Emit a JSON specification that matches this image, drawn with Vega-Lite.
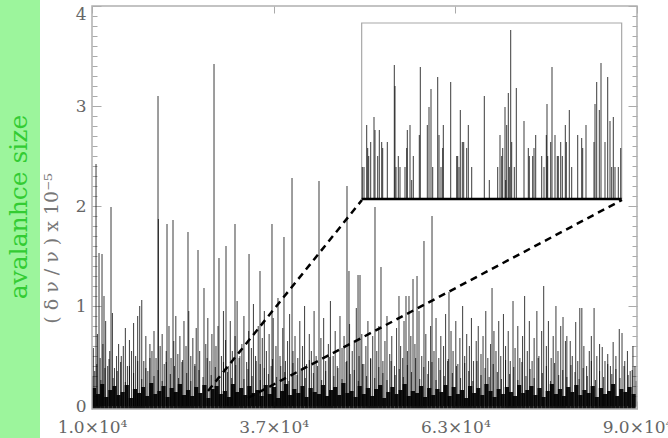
{
  "$schema": "https://vega.github.io/schema/vega-lite/v6.json",
  "background": "#9cf59c",
  "autosize": {"type": "none"},
  "padding": {"left": 40, "top": 0, "right": 0, "bottom": 0},
  "width": 628,
  "height": 438,
  "view": {"fill": "white", "stroke": null},
  "title": {"text": "avalanhce size", "orient": "left", "anchor": "middle", "frame": "group", "font": "DejaVu Serif", "fontSize": 25, "fontWeight": "normal", "color": "#33cc33", "offset": 8, "dx": 12},
  "datasets": {
    "base": [
      {"x":1.03,"v":0.18},{"x":1.09,"v":0.12},{"x":1.15,"v":0.22},{"x":1.21,"v":0.09},{"x":1.27,"v":0.16},{"x":1.33,"v":0.2},{"x":1.39,"v":0.11},{"x":1.45,"v":0.14},{"x":1.51,"v":0.21},{"x":1.57,"v":0.08},{"x":1.63,"v":0.17},{"x":1.69,"v":0.13},{"x":1.75,"v":0.19},{"x":1.81,"v":0.1},{"x":1.87,"v":0.23},{"x":1.93,"v":0.12},{"x":1.99,"v":0.15},{"x":2.05,"v":0.2},{"x":2.11,"v":0.09},{"x":2.17,"v":0.18},
      {"x":2.23,"v":0.14},{"x":2.29,"v":0.22},{"x":2.35,"v":0.11},{"x":2.41,"v":0.16},{"x":2.47,"v":0.1},{"x":2.53,"v":0.19},{"x":2.59,"v":0.13},{"x":2.65,"v":0.21},{"x":2.71,"v":0.08},{"x":2.77,"v":0.17},{"x":2.83,"v":0.2},{"x":2.89,"v":0.12},{"x":2.95,"v":0.15},{"x":3.01,"v":0.09},{"x":3.07,"v":0.22},{"x":3.13,"v":0.14},{"x":3.19,"v":0.18},{"x":3.25,"v":0.11},{"x":3.31,"v":0.2},{"x":3.37,"v":0.13},
      {"x":3.43,"v":0.16},{"x":3.49,"v":0.1},{"x":3.55,"v":0.21},{"x":3.61,"v":0.12},{"x":3.67,"v":0.19},{"x":3.73,"v":0.08},{"x":3.79,"v":0.15},{"x":3.85,"v":0.22},{"x":3.91,"v":0.11},{"x":3.97,"v":0.17},{"x":4.03,"v":0.13},{"x":4.09,"v":0.2},{"x":4.15,"v":0.09},{"x":4.21,"v":0.18},{"x":4.27,"v":0.14},{"x":4.33,"v":0.12},{"x":4.39,"v":0.21},{"x":4.45,"v":0.1},{"x":4.51,"v":0.16},{"x":4.57,"v":0.19},
      {"x":4.63,"v":0.11},{"x":4.69,"v":0.23},{"x":4.75,"v":0.13},{"x":4.81,"v":0.15},{"x":4.87,"v":0.09},{"x":4.93,"v":0.2},{"x":4.99,"v":0.12},{"x":5.05,"v":0.18},{"x":5.11,"v":0.1},{"x":5.17,"v":0.17},{"x":5.23,"v":0.21},{"x":5.29,"v":0.08},{"x":5.35,"v":0.14},{"x":5.41,"v":0.19},{"x":5.47,"v":0.12},{"x":5.53,"v":0.16},{"x":5.59,"v":0.22},{"x":5.65,"v":0.1},{"x":5.71,"v":0.15},{"x":5.77,"v":0.13},
      {"x":5.83,"v":0.2},{"x":5.89,"v":0.09},{"x":5.95,"v":0.18},{"x":6.01,"v":0.11},{"x":6.07,"v":0.17},{"x":6.13,"v":0.14},{"x":6.19,"v":0.21},{"x":6.25,"v":0.1},{"x":6.31,"v":0.19},{"x":6.37,"v":0.12},{"x":6.43,"v":0.16},{"x":6.49,"v":0.08},{"x":6.55,"v":0.2},{"x":6.61,"v":0.13},{"x":6.67,"v":0.18},{"x":6.73,"v":0.11},{"x":6.79,"v":0.22},{"x":6.85,"v":0.15},{"x":6.91,"v":0.09},{"x":6.97,"v":0.17},
      {"x":7.03,"v":0.12},{"x":7.09,"v":0.19},{"x":7.15,"v":0.14},{"x":7.21,"v":0.1},{"x":7.27,"v":0.21},{"x":7.33,"v":0.13},{"x":7.39,"v":0.16},{"x":7.45,"v":0.2},{"x":7.51,"v":0.11},{"x":7.57,"v":0.18},{"x":7.63,"v":0.09},{"x":7.69,"v":0.15},{"x":7.75,"v":0.22},{"x":7.81,"v":0.12},{"x":7.87,"v":0.17},{"x":7.93,"v":0.1},{"x":7.99,"v":0.19},{"x":8.05,"v":0.14},{"x":8.11,"v":0.21},{"x":8.17,"v":0.11},
      {"x":8.23,"v":0.16},{"x":8.29,"v":0.13},{"x":8.35,"v":0.2},{"x":8.41,"v":0.09},{"x":8.47,"v":0.18},{"x":8.53,"v":0.12},{"x":8.59,"v":0.15},{"x":8.65,"v":0.22},{"x":8.71,"v":0.1},{"x":8.77,"v":0.17},{"x":8.83,"v":0.14},{"x":8.89,"v":0.19},{"x":8.95,"v":0.12}
    ],
    "spikes": [
      {"x":1.059,"v":2.42},{"x":1.103,"v":1.53},{"x":1.147,"v":1.52},{"x":1.176,"v":1.1},{"x":1.279,"v":1.99},{"x":1.969,"v":3.1},{"x":1.975,"v":1.87},{"x":2.101,"v":1.82},{"x":2.189,"v":1.86},{"x":2.409,"v":1.74},{"x":2.556,"v":1.56},{"x":2.644,"v":1.18},{"x":2.791,"v":3.42},{"x":2.864,"v":1.48},{"x":2.967,"v":1.6},{"x":3.099,"v":1.82},{"x":3.305,"v":1.52},{"x":3.466,"v":1.35},{"x":3.642,"v":1.82},{"x":3.818,"v":1.69},{"x":3.936,"v":2.28},{"x":4.332,"v":2.25},{"x":4.743,"v":2.2},{"x":4.772,"v":1.35},{"x":4.905,"v":1.31},{"x":4.934,"v":1.31},{"x":5.154,"v":1.99},{"x":5.242,"v":1.39},{"x":5.506,"v":1.1},{"x":5.609,"v":1.1},{"x":5.653,"v":1.1},{"x":5.712,"v":1.27},{"x":5.771,"v":1.3},{"x":5.873,"v":1.65},{"x":5.991,"v":1.9},{"x":6.24,"v":1.14},{"x":6.872,"v":1.18},
      {"x":1.02,"v":0.58},{"x":1.04,"v":0.35},{"x":1.08,"v":0.72},{"x":1.12,"v":0.48},{"x":1.16,"v":0.62},{"x":1.2,"v":0.85},{"x":1.23,"v":0.4},{"x":1.26,"v":0.55},{"x":1.3,"v":0.93},{"x":1.33,"v":0.38},{"x":1.36,"v":0.5},{"x":1.39,"v":0.62},{"x":1.42,"v":0.44},{"x":1.46,"v":0.6},{"x":1.49,"v":0.78},{"x":1.52,"v":0.4},{"x":1.55,"v":0.66},{"x":1.58,"v":0.55},{"x":1.61,"v":0.83},{"x":1.64,"v":0.5},{"x":1.67,"v":0.9},{"x":1.7,"v":1.0},{"x":1.73,"v":1.06},{"x":1.76,"v":0.45},{"x":1.79,"v":0.7},{"x":1.82,"v":0.35},{"x":1.85,"v":0.62},{"x":1.88,"v":0.55},{"x":1.91,"v":0.75},{"x":1.94,"v":0.48},{"x":2.0,"v":0.6},
      {"x":2.03,"v":0.72},{"x":2.06,"v":0.42},{"x":2.09,"v":0.55},{"x":2.13,"v":0.8},{"x":2.16,"v":0.48},{"x":2.2,"v":0.65},{"x":2.23,"v":0.9},{"x":2.26,"v":0.52},{"x":2.29,"v":0.7},{"x":2.32,"v":0.44},{"x":2.35,"v":0.85},{"x":2.38,"v":0.6},{"x":2.42,"v":0.95},{"x":2.45,"v":0.5},{"x":2.48,"v":0.68},{"x":2.51,"v":0.4},{"x":2.53,"v":0.78},{"x":2.58,"v":0.55},{"x":2.67,"v":0.62},{"x":2.7,"v":0.88},{"x":2.73,"v":0.45},{"x":2.76,"v":0.72},{"x":2.82,"v":0.6},{"x":2.85,"v":0.8},{"x":2.9,"v":0.5},{"x":2.93,"v":0.95},{"x":2.96,"v":0.66},{"x":3.0,"v":0.4},
      {"x":3.03,"v":0.85},{"x":3.06,"v":0.55},{"x":3.1,"v":0.7},{"x":3.13,"v":1.05},{"x":3.16,"v":0.48},{"x":3.2,"v":0.62},{"x":3.23,"v":0.9},{"x":3.27,"v":0.44},{"x":3.3,"v":0.75},{"x":3.34,"v":0.58},{"x":3.37,"v":1.02},{"x":3.4,"v":0.5},{"x":3.44,"v":0.8},{"x":3.47,"v":0.42},{"x":3.5,"v":0.68},{"x":3.53,"v":0.95},{"x":3.56,"v":0.55},{"x":3.6,"v":0.72},{"x":3.63,"v":0.4},{"x":3.66,"v":0.88},{"x":3.7,"v":0.6},{"x":3.73,"v":1.08},{"x":3.76,"v":0.5},{"x":3.8,"v":0.78},{"x":3.84,"v":0.45},{"x":3.87,"v":0.65},{"x":3.9,"v":0.92},{"x":3.95,"v":0.55},{"x":3.98,"v":0.7},
      {"x":4.02,"v":0.48},{"x":4.05,"v":0.85},{"x":4.09,"v":0.6},{"x":4.12,"v":1.0},{"x":4.15,"v":0.42},{"x":4.19,"v":0.72},{"x":4.22,"v":0.55},{"x":4.26,"v":0.95},{"x":4.29,"v":0.5},{"x":4.36,"v":0.68},{"x":4.4,"v":0.88},{"x":4.43,"v":0.45},{"x":4.47,"v":0.62},{"x":4.5,"v":1.05},{"x":4.54,"v":0.5},{"x":4.57,"v":0.75},{"x":4.6,"v":0.4},{"x":4.64,"v":0.9},{"x":4.67,"v":0.58},{"x":4.7,"v":0.7},{"x":4.74,"v":0.45},{"x":4.78,"v":0.82},{"x":4.82,"v":0.55},{"x":4.85,"v":0.65},{"x":4.88,"v":0.98},{"x":4.92,"v":0.5},{"x":4.96,"v":0.72},{"x":4.99,"v":0.42},
      {"x":5.02,"v":0.6},{"x":5.05,"v":0.85},{"x":5.09,"v":0.48},{"x":5.12,"v":0.7},{"x":5.18,"v":0.55},{"x":5.21,"v":0.8},{"x":5.27,"v":0.45},{"x":5.3,"v":0.65},{"x":5.33,"v":0.9},{"x":5.37,"v":0.52},{"x":5.4,"v":0.7},{"x":5.44,"v":0.4},{"x":5.47,"v":0.78},{"x":5.53,"v":0.6},{"x":5.56,"v":0.48},{"x":5.58,"v":0.85},{"x":5.63,"v":0.55},{"x":5.68,"v":0.7},{"x":5.74,"v":0.62},{"x":5.8,"v":0.95},{"x":5.84,"v":0.5},{"x":5.9,"v":0.72},{"x":5.94,"v":0.45},{"x":5.97,"v":0.8},
      {"x":6.02,"v":0.55},{"x":6.05,"v":0.88},{"x":6.09,"v":0.48},{"x":6.12,"v":0.7},{"x":6.16,"v":0.6},{"x":6.19,"v":0.92},{"x":6.22,"v":0.45},{"x":6.27,"v":0.75},{"x":6.3,"v":0.55},{"x":6.34,"v":0.85},{"x":6.37,"v":0.42},{"x":6.4,"v":0.68},{"x":6.44,"v":1.0},{"x":6.47,"v":0.5},{"x":6.5,"v":0.72},{"x":6.54,"v":0.6},{"x":6.57,"v":0.88},{"x":6.6,"v":0.45},{"x":6.64,"v":0.65},{"x":6.67,"v":0.8},{"x":6.71,"v":0.52},{"x":6.74,"v":0.7},{"x":6.78,"v":0.95},{"x":6.81,"v":0.48},{"x":6.85,"v":0.62},{"x":6.9,"v":0.75},{"x":6.93,"v":0.55},{"x":6.97,"v":0.85},
      {"x":7.0,"v":0.5},{"x":7.04,"v":0.92},{"x":7.07,"v":0.6},{"x":7.11,"v":0.75},{"x":7.14,"v":0.45},{"x":7.18,"v":1.05},{"x":7.21,"v":0.58},{"x":7.25,"v":0.8},{"x":7.28,"v":0.48},{"x":7.32,"v":0.7},{"x":7.35,"v":1.1},{"x":7.39,"v":0.55},{"x":7.42,"v":0.85},{"x":7.46,"v":0.45},{"x":7.49,"v":0.68},{"x":7.53,"v":0.95},{"x":7.56,"v":0.5},{"x":7.6,"v":0.75},{"x":7.63,"v":1.2},{"x":7.67,"v":0.6},{"x":7.7,"v":0.85},{"x":7.74,"v":0.48},{"x":7.77,"v":0.7},{"x":7.81,"v":1.0},{"x":7.84,"v":0.55},{"x":7.88,"v":0.8},{"x":7.914,"v":0.89},{"x":7.95,"v":0.65},{"x":7.97,"v":0.7},
      {"x":8.02,"v":0.65},{"x":8.05,"v":0.5},{"x":8.1,"v":0.84},{"x":8.13,"v":0.45},{"x":8.16,"v":0.98},{"x":8.19,"v":0.98},{"x":8.22,"v":0.6},{"x":8.26,"v":0.4},{"x":8.3,"v":0.55},{"x":8.33,"v":0.7},{"x":8.37,"v":0.98},{"x":8.41,"v":0.5},{"x":8.45,"v":0.62},{"x":8.49,"v":0.59},{"x":8.53,"v":0.45},{"x":8.57,"v":0.52},{"x":8.61,"v":0.4},{"x":8.65,"v":0.64},{"x":8.69,"v":0.5},{"x":8.74,"v":0.77},{"x":8.78,"v":0.73},{"x":8.82,"v":0.45},{"x":8.86,"v":0.55},{"x":8.9,"v":0.35},{"x":8.94,"v":0.6},{"x":8.97,"v":0.4},
      {"x":1.01,"v":0.3},{"x":1.07,"v":0.42},{"x":1.13,"v":0.26},{"x":1.19,"v":0.38},{"x":1.25,"v":0.47},{"x":1.31,"v":0.28},{"x":1.37,"v":0.35},{"x":1.43,"v":0.5},{"x":1.49,"v":0.24},{"x":1.55,"v":0.4},{"x":1.61,"v":0.33},{"x":1.67,"v":0.45},{"x":1.73,"v":0.27},{"x":1.79,"v":0.38},{"x":1.85,"v":0.48},{"x":1.91,"v":0.3},{"x":1.97,"v":0.36},{"x":2.03,"v":0.25},{"x":2.09,"v":0.44},{"x":2.15,"v":0.32},
      {"x":2.21,"v":0.4},{"x":2.27,"v":0.28},{"x":2.33,"v":0.46},{"x":2.39,"v":0.33},{"x":2.45,"v":0.25},{"x":2.51,"v":0.42},{"x":2.57,"v":0.36},{"x":2.63,"v":0.29},{"x":2.69,"v":0.48},{"x":2.75,"v":0.31},{"x":2.81,"v":0.39},{"x":2.87,"v":0.26},{"x":2.93,"v":0.44},{"x":2.99,"v":0.34},{"x":3.05,"v":0.28},{"x":3.11,"v":0.41},{"x":3.17,"v":0.5},{"x":3.23,"v":0.27},{"x":3.29,"v":0.37},{"x":3.35,"v":0.3},
      {"x":3.41,"v":0.45},{"x":3.47,"v":0.26},{"x":3.53,"v":0.38},{"x":3.59,"v":0.32},{"x":3.65,"v":0.47},{"x":3.71,"v":0.29},{"x":3.77,"v":0.4},{"x":3.83,"v":0.34},{"x":3.89,"v":0.25},{"x":3.95,"v":0.43},{"x":4.01,"v":0.31},{"x":4.07,"v":0.37},{"x":4.13,"v":0.28},{"x":4.19,"v":0.46},{"x":4.25,"v":0.33},{"x":4.31,"v":0.4},{"x":4.37,"v":0.26},{"x":4.43,"v":0.35},{"x":4.49,"v":0.49},{"x":4.55,"v":0.3},
      {"x":4.61,"v":0.38},{"x":4.67,"v":0.27},{"x":4.73,"v":0.44},{"x":4.79,"v":0.32},{"x":4.85,"v":0.36},{"x":4.91,"v":0.25},{"x":4.97,"v":0.42},{"x":5.03,"v":0.3},{"x":5.09,"v":0.47},{"x":5.15,"v":0.28},{"x":5.21,"v":0.39},{"x":5.27,"v":0.33},{"x":5.33,"v":0.26},{"x":5.39,"v":0.45},{"x":5.45,"v":0.31},{"x":5.51,"v":0.37},{"x":5.57,"v":0.29},{"x":5.63,"v":0.41},{"x":5.69,"v":0.34},{"x":5.75,"v":0.48},
      {"x":5.81,"v":0.27},{"x":5.87,"v":0.39},{"x":5.93,"v":0.32},{"x":5.99,"v":0.44},{"x":6.05,"v":0.26},{"x":6.11,"v":0.36},{"x":6.17,"v":0.3},{"x":6.23,"v":0.47},{"x":6.29,"v":0.33},{"x":6.35,"v":0.4},{"x":6.41,"v":0.28},{"x":6.47,"v":0.43},{"x":6.53,"v":0.35},{"x":6.59,"v":0.25},{"x":6.65,"v":0.45},{"x":6.71,"v":0.31},{"x":6.77,"v":0.38},{"x":6.83,"v":0.29},{"x":6.89,"v":0.42},{"x":6.95,"v":0.34},
      {"x":7.01,"v":0.27},{"x":7.07,"v":0.46},{"x":7.13,"v":0.32},{"x":7.19,"v":0.39},{"x":7.25,"v":0.26},{"x":7.31,"v":0.44},{"x":7.37,"v":0.3},{"x":7.43,"v":0.37},{"x":7.49,"v":0.28},{"x":7.55,"v":0.48},{"x":7.61,"v":0.33},{"x":7.67,"v":0.4},{"x":7.73,"v":0.25},{"x":7.79,"v":0.43},{"x":7.85,"v":0.31},{"x":7.91,"v":0.36},{"x":7.97,"v":0.29},{"x":8.03,"v":0.41},{"x":8.09,"v":0.34},{"x":8.15,"v":0.27},
      {"x":8.21,"v":0.38},{"x":8.27,"v":0.3},{"x":8.33,"v":0.45},{"x":8.39,"v":0.26},{"x":8.45,"v":0.35},{"x":8.51,"v":0.29},{"x":8.57,"v":0.42},{"x":8.63,"v":0.32},{"x":8.69,"v":0.37},{"x":8.75,"v":0.28},{"x":8.81,"v":0.4},{"x":8.87,"v":0.31},{"x":8.93,"v":0.36},{"x":8.99,"v":0.25}
    ],
    "zoomlines": [
      {"side":"left","x":2.703,"y":0.15,"x2":4.963,"y2":2.06},
      {"side":"right","x":3.29,"y":0.08,"x2":8.78,"y2":2.06}
    ],
    "inset": [
      {"t":22,"v":0.32},{"t":27,"v":0.32},{"t":35,"v":0.74},{"t":38,"v":0.51},{"t":41,"v":0.43},{"t":47,"v":0.57},{"t":57,"v":0.82},{"t":60,"v":0.69},{"t":68,"v":0.43},{"t":73,"v":0.69},{"t":80,"v":0.57},{"t":83,"v":0.51},{"t":97,"v":0.57},{"t":118,"v":1.34},{"t":120,"v":1.13},{"t":123,"v":0.32},{"t":130,"v":0.43},{"t":135,"v":0.32},{"t":150,"v":0.32},{"t":155,"v":0.51},{"t":157,"v":0.69},{"t":165,"v":0.74},{"t":170,"v":0.19},{"t":175,"v":0.43},{"t":193,"v":0.64},{"t":196,"v":1.32},{"t":217,"v":0.74},{"t":222,"v":0.92},{"t":228,"v":1.1},{"t":233,"v":0.32},{"t":248,"v":1.22},{"t":252,"v":0.64},{"t":258,"v":0.32},{"t":263,"v":0.51},{"t":265,"v":0.74},{"t":287,"v":1.17},{"t":305,"v":0.43},{"t":308,"v":0.43},{"t":312,"v":0.32},{"t":316,"v":0.89},{"t":322,"v":0.57},{"t":326,"v":0.57},{"t":335,"v":0.51},{"t":340,"v":0.74},{"t":350,"v":0.32},{"t":388,"v":1.03},{"t":403,"v":0.19},{"t":428,"v":0.32},{"t":435,"v":0.64},{"t":440,"v":0.43},{"t":443,"v":0.51},{"t":450,"v":0.92},{"t":452,"v":0.19},{"t":455,"v":0.74},{"t":460,"v":1.06},{"t":463,"v":0.32},{"t":467,"v":1.69},{"t":470,"v":0.57},{"t":478,"v":0.32},{"t":484,"v":1.11},{"t":507,"v":0.78},{"t":520,"v":0.51},{"t":523,"v":0.43},{"t":533,"v":0.43},{"t":537,"v":0.51},{"t":542,"v":0.64},{"t":560,"v":0.43},{"t":567,"v":0.32},{"t":574,"v":0.64},{"t":576,"v":0.95},{"t":578,"v":0.43},{"t":587,"v":0.57},{"t":591,"v":1.32},{"t":600,"v":0.64},{"t":607,"v":0.43},{"t":610,"v":0.43},{"t":617,"v":0.57},{"t":622,"v":0.43},{"t":631,"v":0.74},{"t":634,"v":0.57},{"t":643,"v":0.89},{"t":650,"v":0.32},{"t":668,"v":0.64},{"t":680,"v":0.61},{"t":683,"v":0.51},{"t":693,"v":0.74},{"t":717,"v":0.57},{"t":720,"v":0.95},{"t":725,"v":1.17},{"t":733,"v":0.89},{"t":738,"v":1.36},{"t":750,"v":0.57},{"t":758,"v":1.22},{"t":765,"v":0.78},{"t":770,"v":0.32},{"t":775,"v":0.82},{"t":780,"v":0.32},{"t":790,"v":0.32},{"t":797,"v":0.51}
    ]
  },
  "layer": [
    {
      "layer": [
        {
          "data": {"name": "base"},
          "mark": {"type": "bar", "size": 4.2, "color": "#000", "opacity": 0.92},
          "encoding": {
            "x": {"field": "x", "type": "quantitative", "scale": {"domain": [0.2367, 9.455], "nice": false, "zero": false, "padding": 0},
              "axis": {"orient": "bottom", "offset": -29, "values": [1, 3.6667, 6.3333, 9], "labelExpr": "format(datum.value, '.1f') + '×10⁴'", "tickSize": -8, "tickColor": "#aaa", "domain": false, "grid": false, "labelPadding": 18, "labelFont": "DejaVu Serif", "labelFontSize": 17, "labelColor": "#666", "labelFlush": false, "labelOverlap": false, "title": null}},
            "y": {"field": "v", "type": "quantitative", "scale": {"domain": [-0.32, 4.06], "nice": false, "zero": false, "padding": 0},
              "axis": {"orient": "left", "offset": -52, "values": [0, 1, 2, 3, 4], "format": "d", "tickSize": -9, "tickColor": "#aaa", "domain": false, "grid": false, "labelPadding": 15, "labelFont": "DejaVu Serif", "labelFontSize": 17, "labelColor": "#666", "labelBaseline": {"condition": {"test": "datum.value === 4", "value": "top"}, "value": "middle"}, "title": "( δ ν / ν )   x   10⁻⁵", "titleFont": "DejaVu Serif", "titleFontSize": 19, "titleFontWeight": "normal", "titleColor": "#777", "titlePadding": 0, "titleY": 248, "minExtent": 31, "maxExtent": 31}},
            "y2": {"datum": -0.03}
          }
        },
        {
          "data": {"name": "spikes"},
          "mark": {"type": "rule", "color": "#000", "strokeWidth": 1.1, "opacity": 0.7},
          "encoding": {
            "x": {"field": "x", "type": "quantitative", "scale": {"domain": [0.2367, 9.455], "nice": false, "zero": false, "padding": 0},
              "axis": {"orient": "top", "offset": -6, "values": [1, 3.6667, 6.3333, 9], "tickSize": -7, "tickColor": "#aaa", "labels": false, "domain": false, "grid": false, "title": null}},
            "y": {"field": "v", "type": "quantitative", "scale": {"domain": [-0.32, 4.06], "nice": false, "zero": false, "padding": 0},
              "axis": {"orient": "right", "offset": -31, "values": [0, 1, 2, 3, 4], "tickSize": -9, "tickColor": "#aaa", "labels": false, "domain": false, "grid": false, "title": null}},
            "y2": {"datum": 0}
          }
        },
        {
          "data": {"values": [{"frame": "main"}]},
          "mark": {"type": "rect", "fill": null, "fillOpacity": 0, "stroke": "#b0b0b0", "strokeWidth": 1.5},
          "encoding": {
            "x": {"datum": 1, "type": "quantitative", "scale": {"domain": [0.2367, 9.455], "nice": false, "zero": false, "padding": 0}, "axis": null},
            "x2": {"datum": 9},
            "y": {"datum": -0.03, "type": "quantitative", "scale": {"domain": [-0.32, 4.06], "nice": false, "zero": false, "padding": 0},
              "axis": {"orient": "left", "offset": -52, "values": [0,0.1,0.2,0.3,0.4,0.5,0.6,0.7,0.8,0.9,1,1.1,1.2,1.3,1.4,1.5,1.6,1.7,1.8,1.9,2,2.1,2.2,2.3,2.4,2.5,2.6,2.7,2.8,2.9,3,3.1,3.2,3.3,3.4,3.5,3.6,3.7,3.8,3.9,4], "tickSize": -5, "tickColor": "#aaa", "labels": false, "domain": false, "grid": false, "title": null}},
            "y2": {"datum": 4.0}
          }
        },
        {
          "data": {"name": "zoomlines"},
          "mark": {"type": "rule", "color": "#000", "strokeWidth": 2.5, "strokeDash": [7, 5]},
          "encoding": {
            "x": {"field": "x", "type": "quantitative", "scale": {"domain": [0.2367, 9.455], "nice": false, "zero": false, "padding": 0}, "axis": null},
            "x2": {"field": "x2"},
            "y": {"field": "y", "type": "quantitative", "scale": {"domain": [-0.32, 4.06], "nice": false, "zero": false, "padding": 0},
              "axis": {"orient": "right", "offset": -31, "values": [0,0.1,0.2,0.3,0.4,0.5,0.6,0.7,0.8,0.9,1,1.1,1.2,1.3,1.4,1.5,1.6,1.7,1.8,1.9,2,2.1,2.2,2.3,2.4,2.5,2.6,2.7,2.8,2.9,3,3.1,3.2,3.3,3.4,3.5,3.6,3.7,3.8,3.9,4], "tickSize": -5, "tickColor": "#aaa", "labels": false, "domain": false, "grid": false, "title": null}},
            "y2": {"field": "y2"}
          }
        }
      ],
      "resolve": {"axis": {"x": "independent", "y": "independent"}}
    },
    {
      "layer": [
        {
          "data": {"values": [{"panel": "inset"}]},
          "mark": {"type": "rect", "fill": "white", "stroke": "#a8a8a8", "strokeWidth": 1.2},
          "encoding": {
            "x": {"datum": 20, "type": "quantitative", "scale": {"domain": [-945, 939], "nice": false, "zero": false, "padding": 0}, "axis": null},
            "x2": {"datum": 800},
            "y": {"datum": 0, "type": "quantitative", "scale": {"domain": [-2.39, 1.99], "nice": false, "zero": false, "padding": 0}, "axis": null},
            "y2": {"datum": 1.76}
          }
        },
        {
          "data": {"name": "inset"},
          "mark": {"type": "rule", "color": "#000", "strokeWidth": 1.1, "opacity": 0.7},
          "encoding": {
            "x": {"field": "t", "type": "quantitative", "scale": {"domain": [-945, 939], "nice": false, "zero": false, "padding": 0}, "axis": null},
            "y": {"field": "v", "type": "quantitative", "scale": {"domain": [-2.39, 1.99], "nice": false, "zero": false, "padding": 0}, "axis": null},
            "y2": {"datum": 0}
          }
        },
        {
          "data": {"values": [{"panel": "inset"}]},
          "mark": {"type": "rule", "color": "#000", "strokeWidth": 2.5},
          "encoding": {
            "x": {"datum": 20, "type": "quantitative", "scale": {"domain": [-945, 939], "nice": false, "zero": false, "padding": 0}, "axis": null},
            "x2": {"datum": 800},
            "y": {"datum": 0, "type": "quantitative", "scale": {"domain": [-2.39, 1.99], "nice": false, "zero": false, "padding": 0}, "axis": null}
          }
        }
      ]
    }
  ],
  "resolve": {"scale": {"x": "independent", "y": "independent"}}
}
